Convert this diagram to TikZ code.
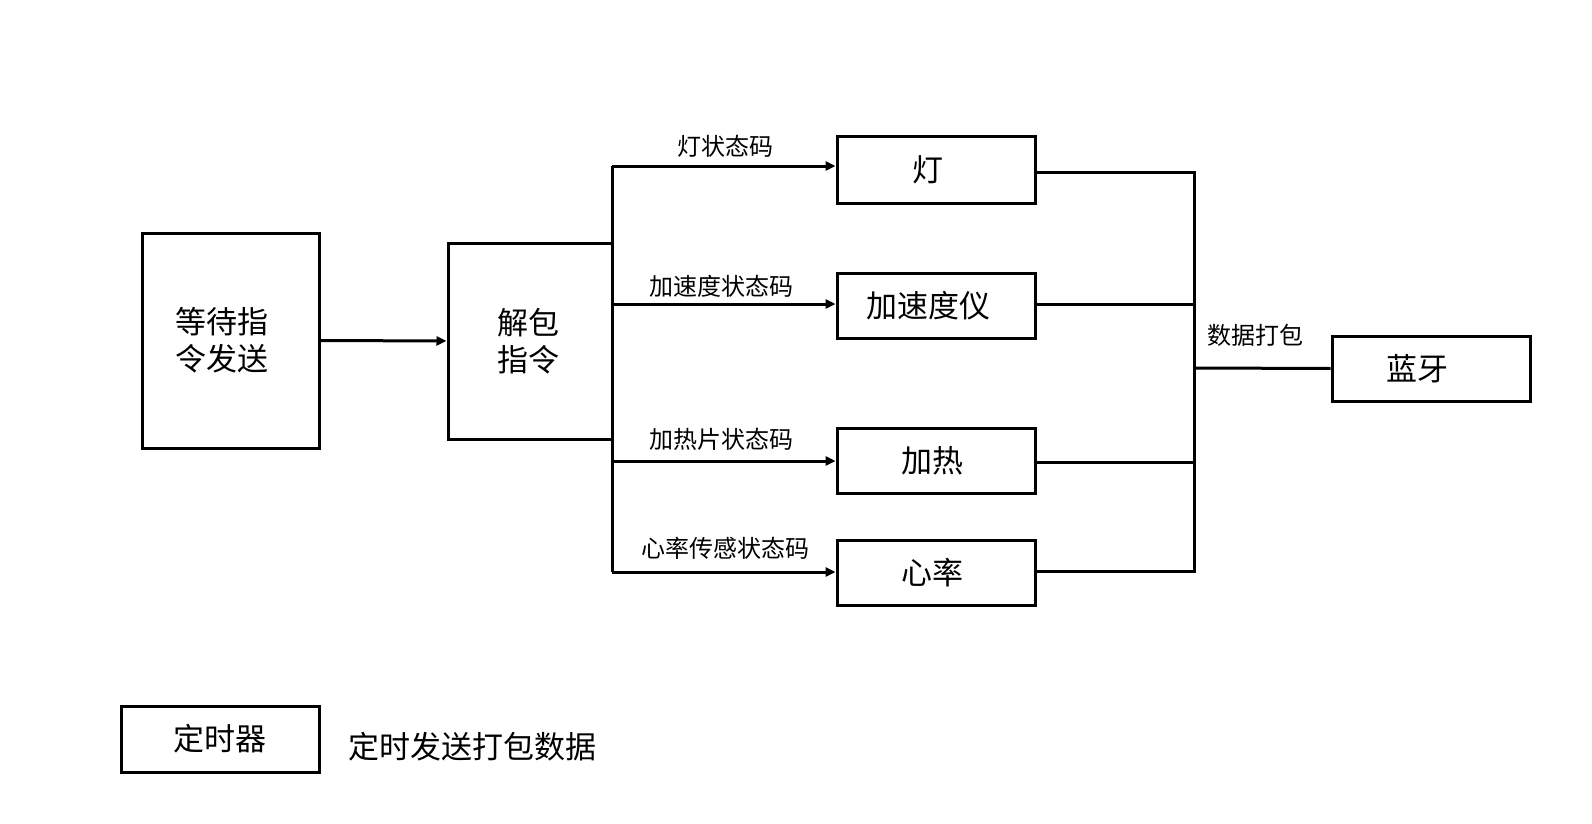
\documentclass[tikz,border=0pt]{standalone}
\usepackage{fontspec}
\setmainfont{Noto Sans CJK SC}
\usetikzlibrary{arrows.meta}
\begin{document}
\begin{tikzpicture}[x=1pt,y=-1pt,
  blk/.style={draw,line width=3pt,inner sep=0pt,align=center,font=\fontsize{31}{37}\selectfont},
  wire/.style={line width=3pt},
  arr/.style={wire,-{Triangle[length=10pt,width=9pt]}},
  lbl/.style={inner sep=0pt,font=\fontsize{24}{28}\selectfont},
  note/.style={inner sep=0pt,font=\fontsize{31}{37}\selectfont}]
\useasboundingbox (0,0) rectangle (1592,824);
% left boxes
\node[blk,minimum width=177,minimum height=215] (wait) at (230.5,340.5) {等待指\kern18pt\\令发送\kern18pt};
\node[blk,minimum width=164,minimum height=196] (unpack) at (530,341) {解包\kern4pt\\指令\kern4pt};
\draw[arr] (wait.east) -- (unpack.west);
% device boxes
\node[blk,minimum width=198,minimum height=66] (lamp) at (936,170) {灯\kern16pt};
\node[blk,minimum width=198,minimum height=65] (accel) at (936,305.5) {加速度仪\kern16pt};
\node[blk,minimum width=198,minimum height=65] (heat) at (936,460.5) {加热\kern8pt};
\node[blk,minimum width=198,minimum height=65] (heart) at (936,572.5) {心率\kern8pt};
\node[blk,minimum width=198,minimum height=65] (bt) at (1431,368.5) {蓝牙\kern28pt};
% left bus
\coordinate (b1) at (612,166);
\coordinate (b2) at (612,304);
\coordinate (b3) at (612,461);
\coordinate (b4) at (612,572);
\draw[wire] (b1) -- (b4);
\draw[arr] (b1) -- (lamp.west |- b1);
\draw[arr] (b2) -- (accel.west |- b2);
\draw[arr] (b3) -- (heat.west |- b3);
\draw[arr] (b4) -- (heart.west |- b4);
% right bus
\coordinate (r1) at (1194,172);
\coordinate (r2) at (1194,304);
\coordinate (r3) at (1194,462);
\coordinate (r4) at (1194,571);
\coordinate (rm) at (1194,368);
\draw[wire] (lamp.east |- r1) -- (r1) -- (r4) -- (heart.east |- r4);
\draw[wire] (accel.east |- r2) -- (r2);
\draw[wire] (heat.east |- r3) -- (r3);
\draw[wire] (rm) -- (bt.west);
% labels
\node[lbl] (l1) at (725,146) {灯状态码};
\node[lbl] (l2) at (721,286) {加速度状态码};
\node[lbl] (l3) at (721,439) {加热片状态码};
\node[lbl] (l4) at (725,548) {心率传感状态码};
\node[lbl] (l5) at (1255,335) {数据打包};
% timer legend
\node[blk,minimum width=198,minimum height=66] (timer) at (220,739) {定时器};
\node[note] (tnote) at (472,747) {定时发送打包数据};
\end{tikzpicture}
\end{document}
